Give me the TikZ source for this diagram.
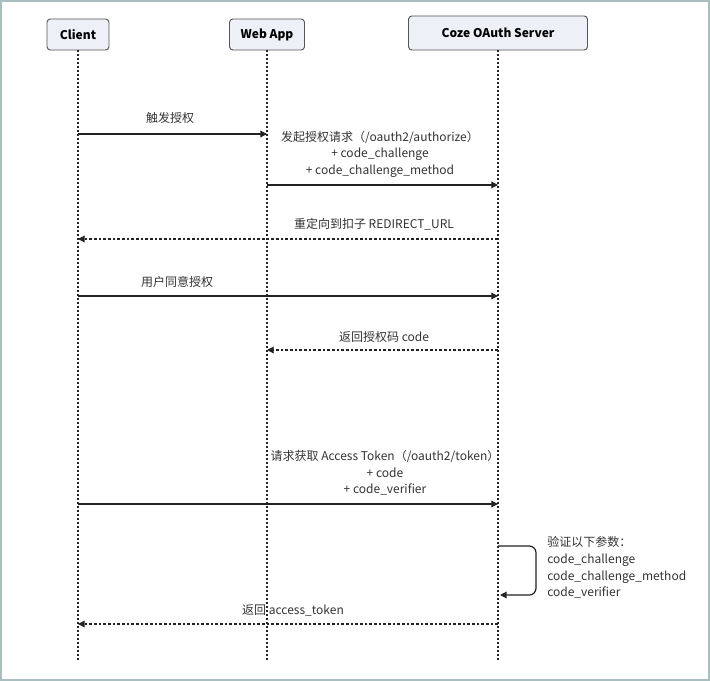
\documentclass[tikz,border=0pt]{standalone}
\usepackage{fontspec}
\setmainfont{Noto Sans CJK SC}
\usetikzlibrary{arrows.meta}
\definecolor{framec}{HTML}{A9BFBF}
\definecolor{boxfill}{HTML}{EEF0F8}
\definecolor{boxdraw}{HTML}{555555}
\definecolor{txt}{HTML}{333333}
\definecolor{linec}{HTML}{222222}
\begin{document}
\begin{tikzpicture}[x=0.75pt,y=-0.75pt,
  actor/.style={draw=boxdraw, fill=boxfill, rounded corners=2.5pt, line width=0.7pt,
     font=\fontsize{9}{11}\selectfont\bfseries, text=black, inner sep=0pt},
  lifeline/.style={draw=linec, line width=0.9pt, dash pattern=on 1.5pt off 1.5pt},
  msg/.style={draw=linec, line width=0.9pt, -{Triangle[length=5pt,width=5pt]}},
  reply/.style={msg, dash pattern=on 2pt off 1.5pt},
  lbl/.style={font=\fontsize{9}{12.4}\selectfont, text=txt, inner sep=0pt, align=center},
  lblw/.style={lbl, align=left, anchor=west}]
\useasboundingbox (0,0) rectangle (710,681);
\draw[framec, line width=1.5pt] (1,1) rectangle (709,680);

% actors
\node[actor, minimum width=46.5pt, minimum height=23.25pt] (client) at (78,34.5) {Client};
\node[actor, minimum width=56.25pt, minimum height=23.25pt] (web) at (267,34.5) {Web App};
\node[actor, minimum width=134.25pt, minimum height=25.5pt] (srv) at (498,33) {Coze OAuth Server};

% lifeline ends
\coordinate (cEnd) at (78,662);
\coordinate (wEnd) at (267,662);
\coordinate (sEnd) at (498,662);
\draw[lifeline] (client.south) -- (cEnd);
\draw[lifeline] (web.south) -- (wEnd);
\draw[lifeline] (srv.south) -- (sEnd);

% message anchor points
\coordinate (c1) at (78,134);  \coordinate (w1) at (267,134);
\coordinate (w2) at (267,185); \coordinate (s2) at (498,185);
\coordinate (s3) at (498,239); \coordinate (c3) at (78,239);
\coordinate (c4) at (78,296);  \coordinate (s4) at (498,296);
\coordinate (s5) at (498,350); \coordinate (w5) at (267,350);
\coordinate (c6) at (78,504);  \coordinate (s6) at (498,504);
\coordinate (s7a) at (498,546); \coordinate (s7b) at (500,595);
\coordinate (s8) at (498,624); \coordinate (c8) at (78,624);

% messages
\draw[msg] (c1) -- (w1);
\node[lbl] (m1) at (170,118) {触发授权};

\draw[msg] (w2) -- (s2);
\node[lbl] (m2) at (380,154) {发起授权请求（/oauth2/authorize）\\+ code\_challenge\\+ code\_challenge\_method};

\draw[reply] (s3) -- (c3);
\node[lbl] (m3) at (374,224) {重定向到扣子 REDIRECT\_URL};

\draw[msg] (c4) -- (s4);
\node[lbl] (m4) at (177,282) {用户同意授权};

\draw[reply] (s5) -- (w5);
\node[lbl] (m5) at (384,337) {返回授权码 code};

\draw[msg] (c6) -- (s6);
\node[lbl] (m6) at (385,473) {请求获取 Access Token（/oauth2/token）\\+ code\\+ code\_verifier};

\draw[msg, rounded corners=5pt] (s7a) -| (536,595) -- (s7b);
\node[lblw] (m7) at (547,567.5) {验证以下参数：\\code\_challenge\\code\_challenge\_method\\code\_verifier};

\draw[reply] (s8) -- (c8);
\node[lbl] (m8) at (293,610) {返回 access\_token};
\end{tikzpicture}
\end{document}
